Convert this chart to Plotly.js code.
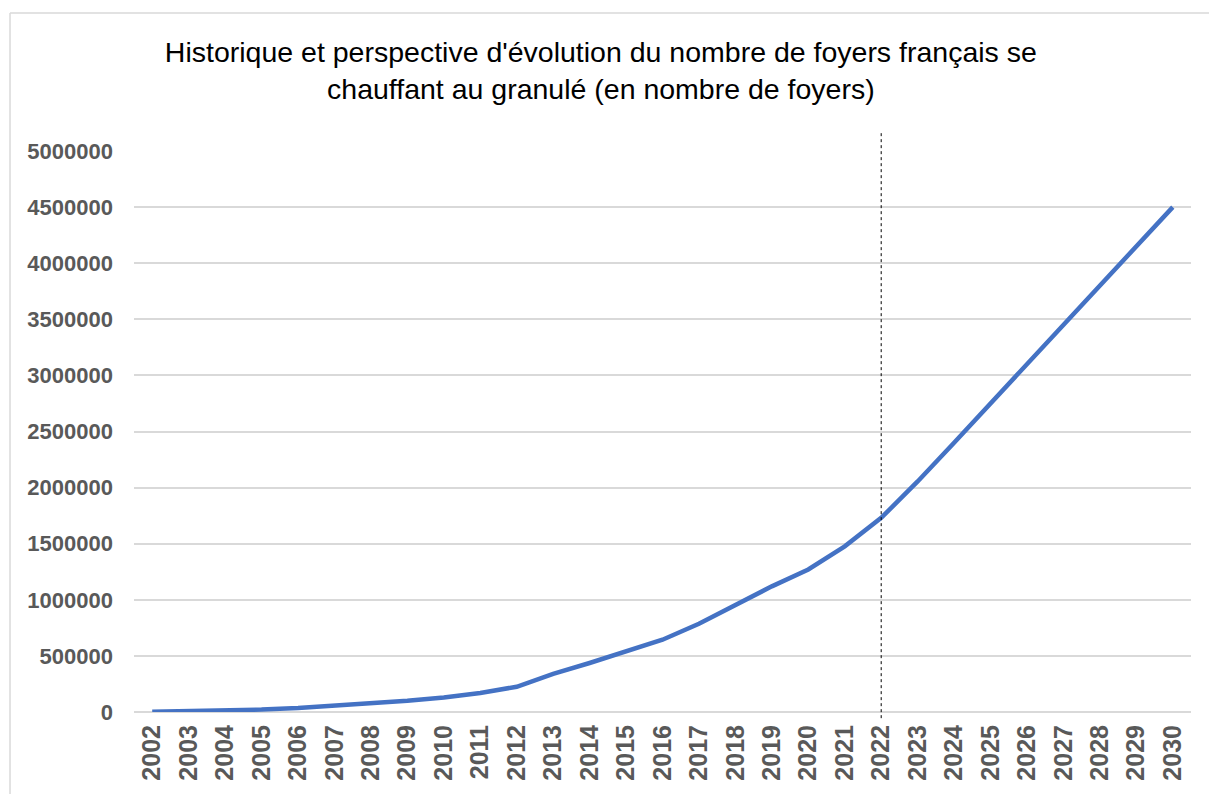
<!DOCTYPE html>
<html>
<head>
<meta charset="utf-8">
<script src="https://cdn.plot.ly/plotly-3.0.1.min.js"></script>
<style>html,body{margin:0;padding:0;background:#fff;}#chart{width:1209px;height:794px;}</style>
</head>
<body>
<div id="chart"></div>
<script>
const years = ["2002","2003","2004","2005","2006","2007","2008","2009","2010","2011","2012","2013","2014","2015","2016","2017","2018","2019","2020","2021","2022","2023","2024","2025","2026","2027","2028","2029","2030"];
const foyers = [3000, 8000, 15000, 22000, 36000, 54000, 74000, 100000, 130000, 170000, 225000, 340000, 437000, 540000, 644000, 787000, 950000, 1120000, 1270000, 1476000, 1730000, 2055000, 2400000, 2750000, 3090000, 3440000, 3790000, 4150000, 4500000];
const markerYear = "2022";
const titleText = "Historique et perspective d'évolution du nombre de foyers français se<br>chauffant au granulé (en nombre de foyers)";

const trace = {
  x: years, y: foyers, type: "scatter", mode: "lines",
  line: {color: "#4472C4", width: 4.5},
  hoverinfo: "x+y", showlegend: false
};

const markerIndex = years.indexOf(markerYear);

const layout = {
  width: 1209, height: 794,
  paper_bgcolor: "#ffffff", plot_bgcolor: "#ffffff",
  margin: {l: 134, r: 18, t: 151, b: 82},
  title: {
    text: titleText,
    font: {family: "Liberation Sans, Arial, sans-serif", size: 28.5, color: "#000000"},
    x: 0.497, xref: "container", xanchor: "center",
    y: 0.922, yref: "container", yanchor: "middle"
  },
  xaxis: {
    type: "category", range: [-0.5, 28.5],
    tickangle: -90, showgrid: false, zeroline: false, showline: false,
    ticks: "", ticklabelstandoff: 7,
    tickfont: {family: "Liberation Sans, Arial, sans-serif", size: 25, color: "#595959", weight: "bold"}
  },
  yaxis: {
    range: [0, 5000000], dtick: 500000, tickformat: "d",
    showgrid: true, gridcolor: "#d9d9d9", gridwidth: 1.5,
    zeroline: true, zerolinecolor: "#d9d9d9", zerolinewidth: 1.5,
    showline: false, ticks: "", ticklabelstandoff: 20,
    tickfont: {family: "Liberation Sans, Arial, sans-serif", size: 22, color: "#595959", weight: "bold"}
  },
  shapes: [
    {type: "line", xref: "x", yref: "paper", x0: markerIndex, x1: markerIndex, y0: -0.011, y1: 1.032,
     layer: "above", line: {color: "#000000", width: 1, dash: "dot"}},
    {type: "line", xref: "paper", yref: "paper", x0: -0.1173, x1: -0.1173, y0: -0.2, y1: 1.246,
     line: {color: "#d9d9d9", width: 1.5}},
    {type: "line", xref: "paper", yref: "paper", x0: -0.1173, x1: 1.02, y0: 1.246, y1: 1.246,
     line: {color: "#d9d9d9", width: 1.5}}
  ]
};

Plotly.newPlot("chart", [trace], layout, {displayModeBar: false, responsive: false});
</script>
</body>
</html>
